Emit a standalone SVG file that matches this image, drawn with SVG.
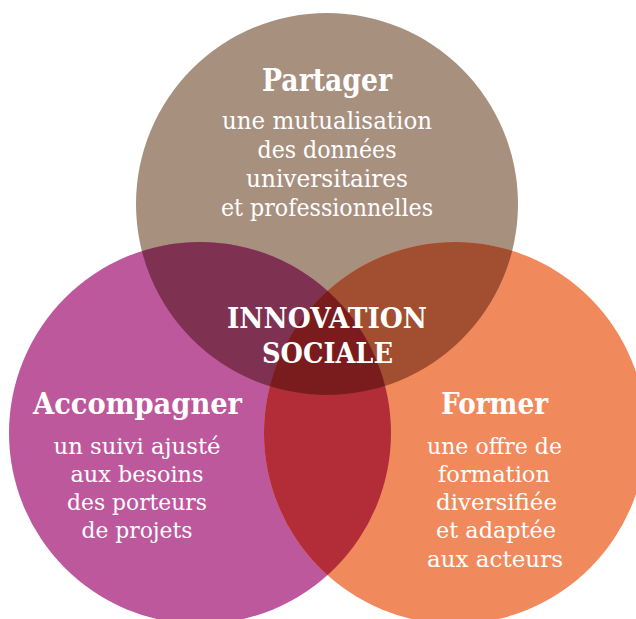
<svg xmlns="http://www.w3.org/2000/svg" width="636" height="619" viewBox="0 0 636 619">
  <style>
    .h { font-family: "DejaVu Serif", "Liberation Serif", serif; font-weight: bold; fill: #ffffff; text-anchor: middle; }
    .b { font-family: "DejaVu Serif", "Liberation Serif", serif; fill: #ffffff; text-anchor: middle; }
  </style>
  <defs>
    <clipPath id="clipL"><circle cx="200" cy="433" r="191"/></clipPath>
    <clipPath id="clipR"><circle cx="455" cy="433" r="191"/></clipPath>
  </defs>
  <rect width="636" height="619" fill="#ffffff"/>

  <g id="partager">
    <circle cx="327" cy="204" r="191" fill="#A8907F"/>
    <text class="h" x="327" y="91" font-size="31" textLength="130" lengthAdjust="spacingAndGlyphs">Partager</text>
    <text class="b" x="327" y="129" font-size="24" textLength="210" lengthAdjust="spacingAndGlyphs">une mutualisation</text>
    <text class="b" x="327" y="158" font-size="24" textLength="139" lengthAdjust="spacingAndGlyphs">des données</text>
    <text class="b" x="327" y="187" font-size="24" textLength="162" lengthAdjust="spacingAndGlyphs">universitaires</text>
    <text class="b" x="327" y="216" font-size="24" textLength="212" lengthAdjust="spacingAndGlyphs">et professionnelles</text>
  </g>

  <g id="accompagner">
    <circle cx="200" cy="433" r="191" fill="#BD589C"/>
    <text class="h" x="137.5" y="414" font-size="30" textLength="209" lengthAdjust="spacingAndGlyphs">Accompagner</text>
    <text class="b" x="137" y="454" font-size="23" textLength="167" lengthAdjust="spacingAndGlyphs">un suivi ajusté</text>
    <text class="b" x="137" y="482" font-size="23" textLength="133" lengthAdjust="spacingAndGlyphs">aux besoins</text>
    <text class="b" x="137" y="510" font-size="23" textLength="140" lengthAdjust="spacingAndGlyphs">des porteurs</text>
    <text class="b" x="137" y="538" font-size="23" textLength="111" lengthAdjust="spacingAndGlyphs">de projets</text>
  </g>

  <g id="former">
    <circle cx="455" cy="433" r="191" fill="#F08A5D"/>
    <text class="h" x="494.5" y="414" font-size="30" textLength="107" lengthAdjust="spacingAndGlyphs">Former</text>
    <text class="b" x="494.5" y="454" font-size="23" textLength="135" lengthAdjust="spacingAndGlyphs">une offre de</text>
    <text class="b" x="494" y="482" font-size="23" textLength="112" lengthAdjust="spacingAndGlyphs">formation</text>
    <text class="b" x="496.5" y="510" font-size="23" textLength="121" lengthAdjust="spacingAndGlyphs">diversifiée</text>
    <text class="b" x="496" y="538" font-size="23" textLength="120" lengthAdjust="spacingAndGlyphs">et adaptée</text>
    <text class="b" x="495" y="567" font-size="23" textLength="136" lengthAdjust="spacingAndGlyphs">aux acteurs</text>
  </g>

  <g id="overlaps">
    <circle cx="455" cy="433" r="191" fill="#B22D38" clip-path="url(#clipL)"/>
    <circle cx="327" cy="204" r="191" fill="#7F3152" clip-path="url(#clipL)"/>
    <circle cx="327" cy="204" r="191" fill="#A14F30" clip-path="url(#clipR)"/>
    <g clip-path="url(#clipR)">
      <circle cx="327" cy="204" r="191" fill="#7A1C1E" clip-path="url(#clipL)"/>
    </g>
  </g>

  <g id="innovation-sociale">
    <text class="h" x="327" y="328" font-size="27" textLength="200" lengthAdjust="spacingAndGlyphs">INNOVATION</text>
    <text class="h" x="327.5" y="363" font-size="27" textLength="131" lengthAdjust="spacingAndGlyphs">SOCIALE</text>
  </g>
</svg>
